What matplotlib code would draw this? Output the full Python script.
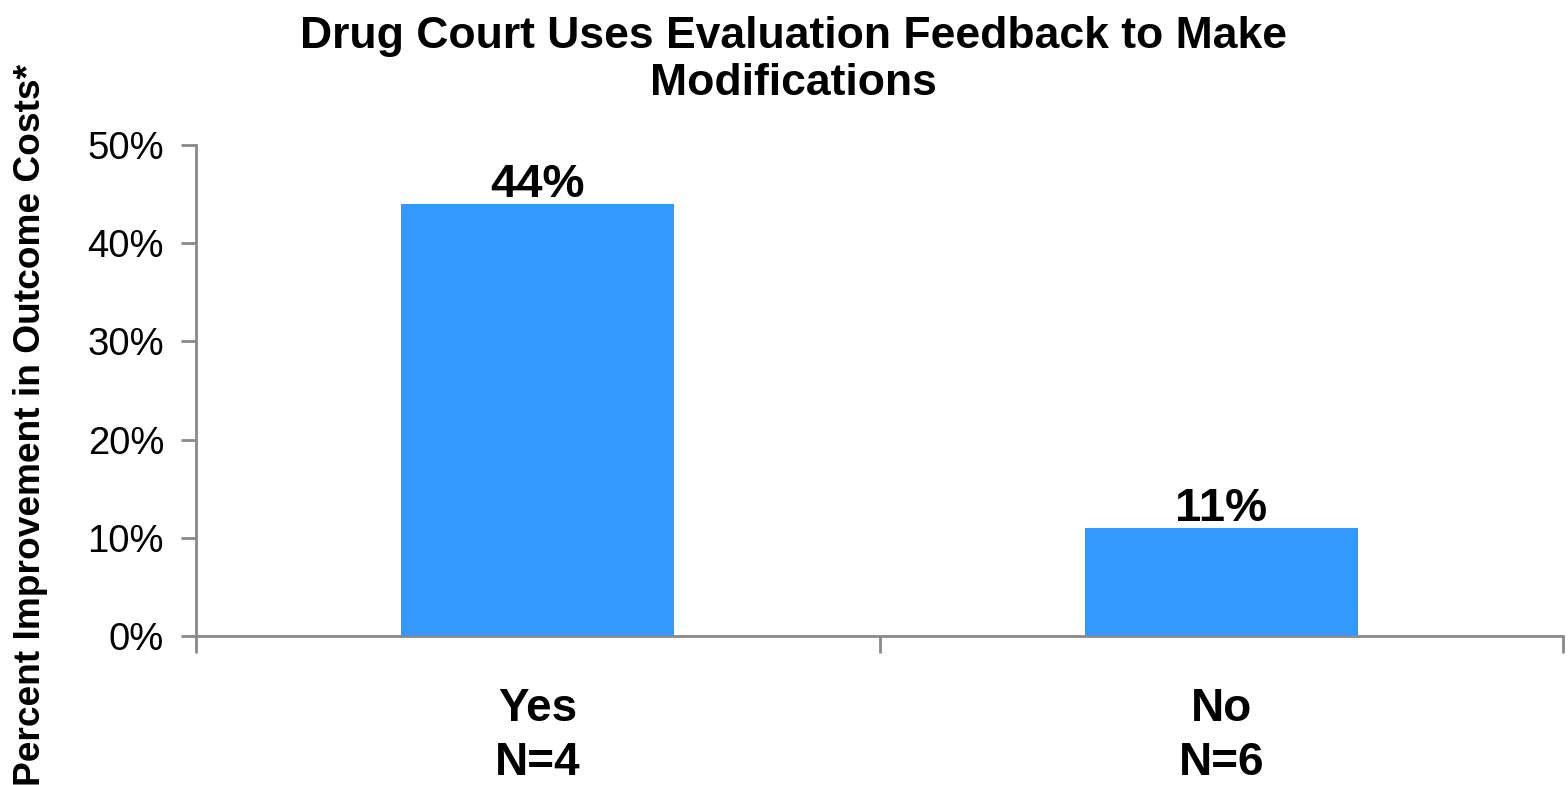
import matplotlib.pyplot as plt
from matplotlib.ticker import PercentFormatter

plt.rcParams['font.family'] = ['Liberation Sans', 'DejaVu Sans']

# data
categories = ['Yes\nN=4', 'No\nN=6']
values = [0.44, 0.11]
bar_labels = ['44%', '11%']

grey = '#898989'
blue = '#3399FF'

fig = plt.figure(figsize=(15.68, 7.85), dpi=100)
ax = fig.add_axes([196 / 1568, 1 - 636 / 785, (1563 - 196) / 1568, (636 - 145) / 785])

x = list(range(len(categories)))
ax.bar(x, values, width=0.4, color=blue)
for xi, v, lab in zip(x, values, bar_labels):
    ax.text(xi, v - 0.003, lab, ha='center', va='bottom', fontsize=34, fontweight='bold')

ax.set_xlim(-0.5, len(categories) - 0.5)
ax.set_ylim(0, 0.5)
ax.set_yticks([0, 0.1, 0.2, 0.3, 0.4, 0.5])
ax.yaxis.set_major_formatter(PercentFormatter(1.0, decimals=0))

# category boundary ticks on x axis, labels at centres
ax.set_xticks([-0.5, 0.5, 1.5])
ax.set_xticklabels([])
ax.set_xticks(x, minor=True)
ax.set_xticklabels(categories, minor=True, fontsize=33, fontweight='bold', linespacing=1.28)
ax.tick_params(axis='x', which='minor', length=0, pad=37)
ax.tick_params(axis='x', which='major', length=12, width=2, color=grey)
ax.tick_params(axis='y', length=11, width=2, color=grey, labelsize=27.5, pad=12)

for s in ['top', 'right']:
    ax.spines[s].set_visible(False)
for s in ['left', 'bottom']:
    ax.spines[s].set_color(grey)
    ax.spines[s].set_linewidth(2)

ax.set_ylabel('Percent Improvement in Outcome Costs*', fontsize=26.7, fontweight='bold')
ax.yaxis.set_label_coords(-0.108, 0.43)

fig.text(0.506, 0.924, 'Drug Court Uses Evaluation Feedback to Make\nModifications',
         ha='center', va='center', fontsize=32, fontweight='bold', linespacing=1.19)

fig.savefig('out.png', dpi=100)
